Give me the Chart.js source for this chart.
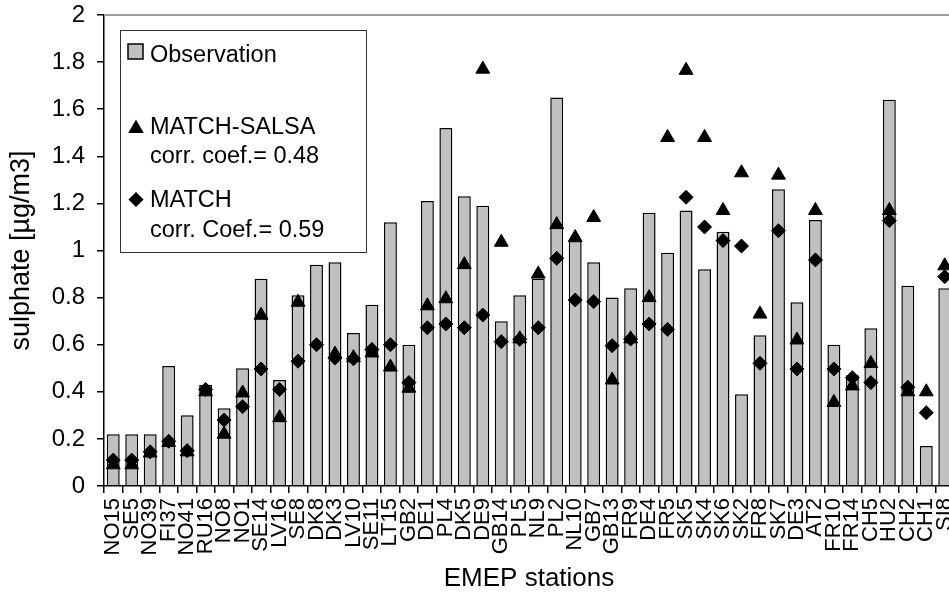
<!DOCTYPE html>
<html>
<head>
<meta charset="utf-8">
<script src="https://cdn.jsdelivr.net/npm/chart.js@4.4.1/dist/chart.umd.min.js"></script>
<style>
    html, body { margin: 0; padding: 0; background: #fff; }
    #wrap { width: 949px; height: 597px; overflow: hidden; position: relative; }
    #chart { display: block; }
</style>
</head>
<body>
<div id="wrap"><canvas id="chart" width="963" height="597"></canvas></div>
<script>
// ==================== Data ====================

const stations = ['NO15','SE5','NO39','FI37','NO41','RU16','NO8','NO1','SE14','LV16','SE8','DK8','DK3','LV10','SE11','LT15','GB2','DE1','PL4','DK5','DE9','GB14','PL5','NL9','PL2','NL10','GB7','GB13','FR9','DE4','FR5','SK5','SK4','SK6','SK2','FR8','SK7','DE3','AT2','FR10','FR14','CH5','HU2','CH2','CH1','SI8'];

const observation = [0.22,0.22,0.22,0.51,0.30,0.43,0.33,0.50,0.88,0.45,0.81,0.94,0.95,0.65,0.77,1.12,0.60,1.21,1.52,1.23,1.19,0.70,0.81,0.88,1.65,1.04,0.95,0.80,0.84,1.16,0.99,1.17,0.92,1.08,0.39,0.64,1.26,0.78,1.13,0.60,0.47,0.67,1.64,0.85,0.17,0.84];

const matchSalsa = [0.09,0.09,0.14,0.185,0.145,0.40,0.22,0.395,0.725,0.29,0.78,null,0.56,0.545,0.565,0.505,0.415,0.765,0.795,0.94,1.77,1.035,0.625,0.90,1.11,1.055,1.14,0.45,0.625,0.80,1.48,1.765,1.48,1.17,1.33,0.73,1.32,0.62,1.17,0.355,0.425,0.52,1.17,0.40,0.40,0.935];

const match = [0.11,0.11,0.145,0.19,0.15,0.41,0.28,0.337,0.497,0.41,0.53,0.60,0.543,0.54,0.58,0.60,0.439,0.672,0.688,0.672,0.726,0.613,0.623,0.672,0.967,0.79,0.783,0.596,0.624,0.688,0.665,1.226,1.10,1.042,1.019,0.521,1.084,0.497,0.96,0.497,0.46,0.439,1.127,0.419,0.311,0.889];

const legendLines = ['Observation', 'MATCH-SALSA', 'corr. coef.= 0.48', 'MATCH', 'corr. Coef.= 0.59'];

const FONT = '"Liberation Sans", Arial, sans-serif';
Chart.defaults.font.family = FONT;
Chart.defaults.color = '#000';

// ==================== Plugins ====================

// top frame line + boxed legend drawn inside the plot
const framePlugin = {
    id: 'frame',
    beforeDatasetsDraw(chart) {
        const { ctx, chartArea: a } = chart;
        ctx.save();
        ctx.strokeStyle = '#9a9a9a';
        ctx.lineWidth = 2;
        ctx.beginPath();
        ctx.moveTo(a.left, a.top);
        ctx.lineTo(a.right, a.top);
        ctx.stroke();
        ctx.restore();
    },
    afterDraw(chart) {
        const { ctx, chartArea: a } = chart;
        const bx = a.left + 16, by = a.top + 15;
        ctx.save();
        ctx.fillStyle = '#fff';
        ctx.fillRect(bx, by, 246, 222);
        ctx.strokeStyle = '#333';
        ctx.lineWidth = 1;
        ctx.strokeRect(bx + 0.5, by + 0.5, 246, 222);

        // observation swatch
        ctx.fillStyle = '#c0c0c0';
        ctx.fillRect(bx + 8, by + 14, 15, 15);
        ctx.strokeStyle = '#000';
        ctx.lineWidth = 1.5;
        ctx.strokeRect(bx + 8, by + 14, 15, 15);

        // marker symbols
        ctx.fillStyle = '#000';
        ctx.strokeStyle = '#000';
        Chart.helpers.drawPoint(ctx, { pointStyle: 'triangle', radius: 7.5, rotation: 0, borderWidth: 1 }, bx + 16, by + 98.5);
        Chart.helpers.drawPoint(ctx, { pointStyle: 'rectRot', radius: 6.5, rotation: 0, borderWidth: 1 }, bx + 16, by + 169.5);

        ctx.font = `23.5px ${FONT}`;
        ctx.textBaseline = 'alphabetic';
        ctx.textAlign = 'left';
        const baselines = [31.5, 104, 133, 176.5, 206.5];
        legendLines.forEach((t, i) => ctx.fillText(t, bx + 30, by + baselines[i]));
        ctx.restore();
    }
};

// ==================== Chart ====================

new Chart(document.getElementById('chart'), {
    type: 'bar',
    data: {
        labels: stations,
        datasets: [
            {
                type: 'line',
                label: 'MATCH',
                data: match,
                showLine: false,
                pointStyle: 'rectRot',
                pointRadius: 7,
                pointBorderWidth: 1,
                pointBackgroundColor: '#000',
                pointBorderColor: '#000',
                order: 1
            },
            {
                type: 'line',
                label: 'MATCH-SALSA',
                data: matchSalsa,
                showLine: false,
                pointStyle: 'triangle',
                pointRadius: 8,
                pointBorderWidth: 1,
                pointBackgroundColor: '#000',
                pointBorderColor: '#000',
                order: 2
            },
            {
                label: 'Observation',
                data: observation,
                backgroundColor: '#c0c0c0',
                borderColor: '#000',
                borderWidth: 1.5,
                categoryPercentage: 1,
                barPercentage: 0.7,
                order: 3
            }
        ]
    },
    options: {
        responsive: false,
        animation: false,
        layout: { padding: { top: 15, left: 0, right: 0, bottom: 0 } },
        plugins: {
            legend: { display: false },
            tooltip: { enabled: false }
        },
        scales: {
            x: {
                offset: true,
                grid: { display: true, offset: true, drawOnChartArea: false, drawTicks: true, tickLength: 7, tickColor: '#000', lineWidth: 1.5 },
                border: { display: true, color: '#000', width: 1.5 },
                ticks: {
                    autoSkip: false,
                    minRotation: 90,
                    maxRotation: 90,
                    padding: 5,
                    font: { size: 22 },
                    color: '#000'
                },
                title: {
                    display: true,
                    text: 'EMEP stations',
                    font: { size: 26 },
                    color: '#000',
                    padding: { top: 0, bottom: 3 }
                },
                afterFit(scale) {
                    scale.height = 111;
                    scale.paddingLeft = 0;
                    scale.paddingRight = 0;
                }
            },
            y: {
                min: 0,
                max: 2,
                grid: { display: true, drawOnChartArea: false, drawTicks: true, tickLength: 7, tickColor: '#000', lineWidth: 1.5 },
                border: { display: true, color: '#000', width: 1.5 },
                ticks: {
                    stepSize: 0.2,
                    padding: 12,
                    font: { size: 24 },
                    color: '#000',
                    callback: v => String(Math.round(v * 10) / 10)
                },
                title: {
                    display: true,
                    text: 'sulphate [µg/m3]',
                    font: { size: 27 },
                    color: '#000',
                    padding: { top: 5, bottom: 0 }
                },
                afterFit(scale) {
                    scale.width = 104;
                    scale.paddingTop = 0;
                    scale.paddingBottom = 0;
                }
            }
        }
    },
    plugins: [framePlugin]
});
</script>
</body>
</html>
